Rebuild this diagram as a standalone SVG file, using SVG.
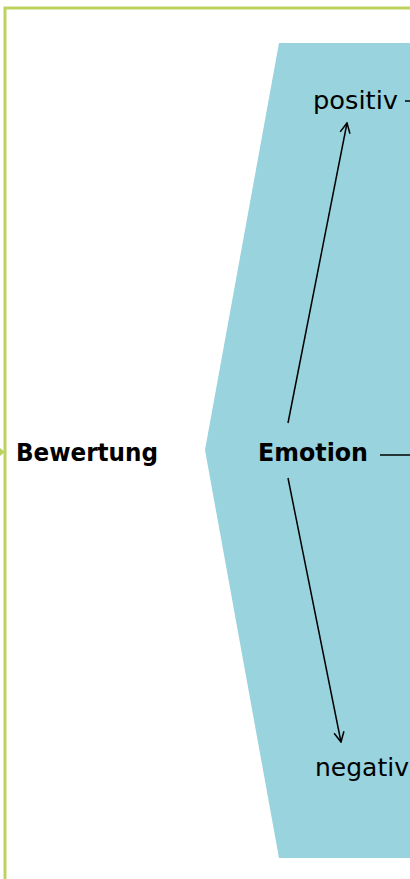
<svg xmlns="http://www.w3.org/2000/svg" width="410" height="879" viewBox="0 0 410 879">
<style>
.t{font-family:"DejaVu Sans","Liberation Sans",sans-serif;font-size:25px;fill:#000}
.b{font-size:24px;font-weight:bold}
.c{stroke:#000;stroke-width:1.5;fill:none}
</style>
<defs>
<marker id="ah" viewBox="0 0 12 12" refX="11" refY="6" markerWidth="12" markerHeight="12" markerUnits="userSpaceOnUse" orient="auto">
<path d="M1,1 L11,6 L1,11" fill="none" stroke="#000" stroke-width="1.5"/>
</marker>
</defs>
<rect width="410" height="879" fill="#fff"/>
<g id="frame">
<path d="M5,879 V8 H410" fill="none" stroke="#bcd35f" stroke-width="3"/>
<polygon points="0,448 5,452 0,456" fill="#bcd35f"/>
</g>
<g id="emotion-area">
<polygon points="279,43 410,43 410,858 279,858 205,450" fill="#98d3de"/>
</g>
<g id="bewertung"><text class="t b" x="16" y="461" textLength="142" lengthAdjust="spacingAndGlyphs">Bewertung</text></g>
<g id="emotion"><text class="t b" x="258" y="461" textLength="110" lengthAdjust="spacingAndGlyphs">Emotion</text></g>
<g id="positiv"><text class="t" x="313" y="109" textLength="85" lengthAdjust="spacingAndGlyphs">positiv</text></g>
<g id="negativ"><text class="t" x="315" y="776">negativ</text></g>
<g id="connectors">
<line class="c" x1="288" y1="423" x2="347" y2="123" marker-end="url(#ah)"/>
<line class="c" x1="288" y1="478" x2="341" y2="742" marker-end="url(#ah)"/>
<line class="c" x1="380" y1="455" x2="410" y2="455"/>
<line class="c" x1="405" y1="101" x2="410" y2="101"/>
</g>
</svg>
